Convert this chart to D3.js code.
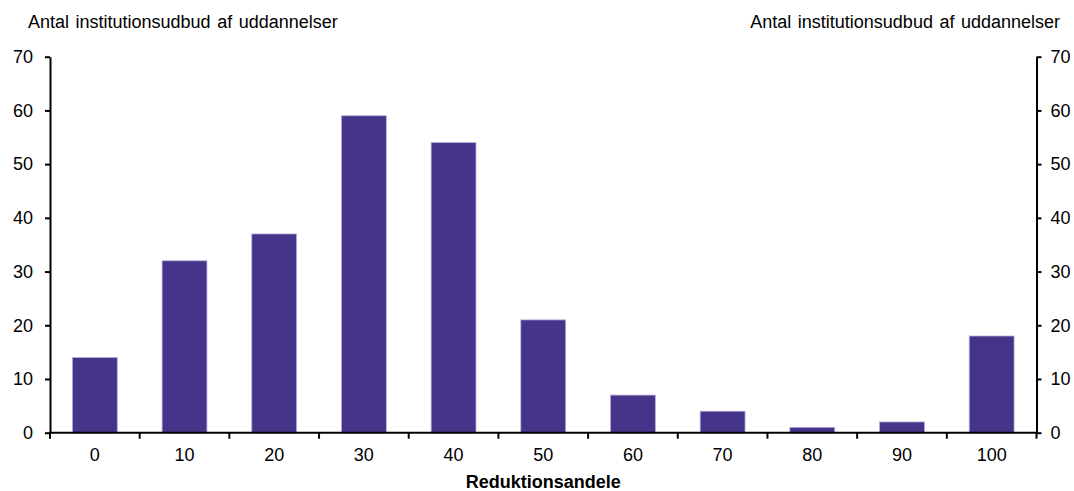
<!DOCTYPE html>
<html><head><meta charset="utf-8">
<script src="https://cdn.jsdelivr.net/npm/d3@7"></script>
<style>body{margin:0;background:#fff}svg{display:block}text{font-family:"Liberation Sans",Arial,sans-serif;fill:#000}</style>
</head><body><svg id="c" width="1074" height="491"></svg>
<script>
const categories = ["0","10","20","30","40","50","60","70","80","90","100"];
const values = [14, 32, 37, 59, 54, 21, 7, 4, 1, 2, 18];
const yTicks = [0, 10, 20, 30, 40, 50, 60, 70];
const axisTitleY = "Antal institutionsudbud af uddannelser";
const axisTitleX = "Reduktionsandele";

const svg = d3.select("#c");
const mLeft = 50, mRight = 1036.5, mTop = 56.7, mBottom = 432.7;
const x = d3.scaleBand().domain(categories).range([mLeft, mRight]).paddingInner(0.5).paddingOuter(0.25);
const xb = d3.scaleBand().domain(categories).range([mLeft, mRight]);
const y = d3.scaleLinear().domain([0, 70]).range([mBottom, mTop]);

svg.append("g").selectAll("rect").data(values).join("rect")
  .attr("x", (d, i) => x(categories[i]))
  .attr("width", x.bandwidth())
  .attr("y", d => y(d))
  .attr("height", d => mBottom - y(d))
  .attr("fill", "#46338a")
  .attr("stroke", "#b5aad8").attr("stroke-width", 0.8);

const fs = "18px";
const gl = svg.append("g").attr("transform", `translate(${mLeft},0)`)
  .call(d3.axisLeft(y).tickValues(yTicks).tickSize(5).tickPadding(12).tickSizeOuter(0));
const gr = svg.append("g").attr("transform", `translate(${mRight},0)`)
  .call(d3.axisRight(y).tickValues(yTicks).tickSize(5).tickPadding(9).tickSizeOuter(0));
[gl, gr].forEach(g => {
  g.select(".domain").attr("stroke", "#000").attr("stroke-width", 2);
  g.selectAll(".tick line").attr("stroke", "#000").attr("stroke-width", 2);
  g.selectAll(".tick text").style("font-size", fs).attr("font-family", "Liberation Sans, Arial, sans-serif").attr("fill", "#000");
});
svg.append("line").attr("x1", mLeft - 1).attr("x2", mRight + 1).attr("y1", mBottom).attr("y2", mBottom)
  .attr("stroke", "#000").attr("stroke-width", 2);
const bounds = categories.map(c => xb(c)).concat([mRight]);
svg.append("g").selectAll("line").data(bounds).join("line")
  .attr("x1", d => d).attr("x2", d => d).attr("y1", mBottom).attr("y2", mBottom + 6)
  .attr("stroke", "#000").attr("stroke-width", 2);
svg.append("g").selectAll("text").data(categories).join("text")
  .attr("x", d => x(d) + x.bandwidth() / 2).attr("y", mBottom + 28.5)
  .attr("text-anchor", "middle").style("font-size", fs).text(d => d);

svg.append("text").attr("x", 28).attr("y", 28).style("font-size", fs).style("word-spacing", "1.5px").text(axisTitleY);
svg.append("text").attr("x", 1060).attr("y", 28).attr("text-anchor", "end").style("font-size", fs).style("word-spacing", "1.5px").text(axisTitleY);
svg.append("text").attr("x", (mLeft + mRight) / 2).attr("y", 488).attr("text-anchor", "middle")
  .style("font-size", fs).style("font-weight", "bold").text(axisTitleX);
</script></body></html>
